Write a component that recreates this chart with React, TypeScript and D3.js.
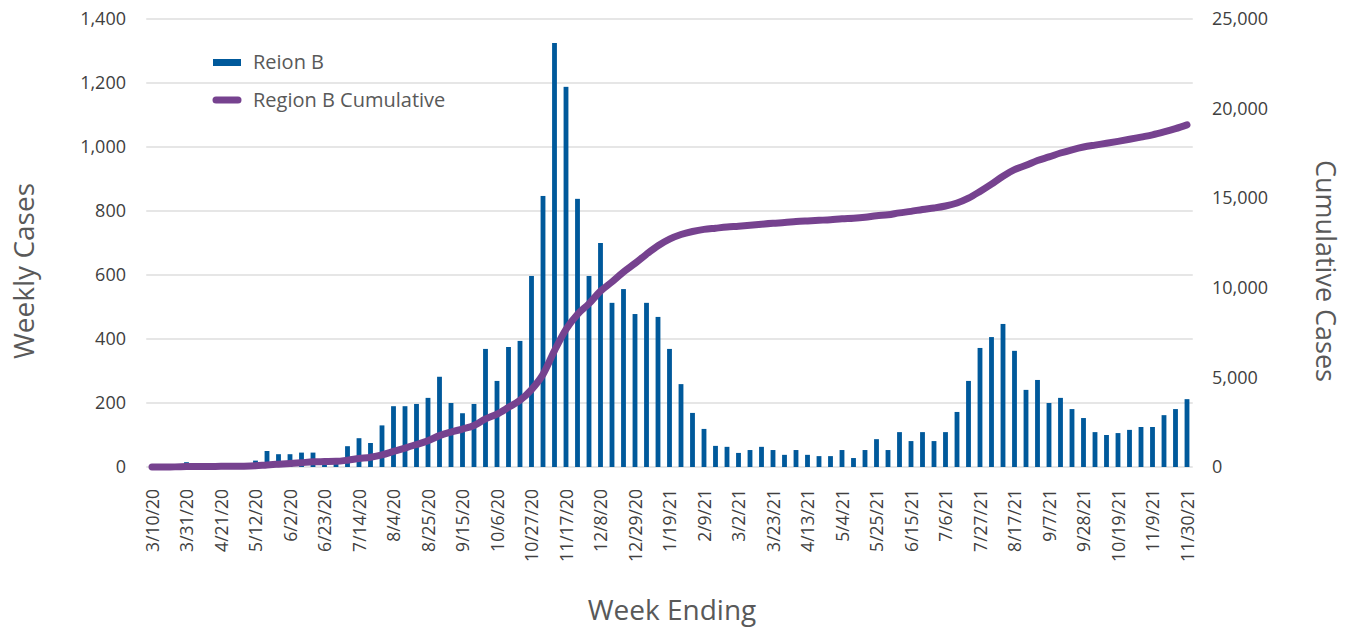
import * as d3 from 'd3';
import { useEffect, useRef } from 'react';

// Weekly cases, one value per week ending 3/10/20 ... 11/30/21
const weeklyCases: number[] = [
  0, 2, 5, 15, 5, 5, 5, 5, 5,
  20, 50, 40, 40, 45, 45, 15, 15, 65, 90, 75,
  130, 190, 190, 197, 216, 282, 200, 168, 197, 369, 269, 375, 394,
  597, 847, 1325, 1188, 838, 597, 700, 513, 556, 478, 513, 469, 369,
  259, 169, 119, 66, 63, 44, 53, 63, 53, 38, 53, 38, 34, 34, 53, 28, 53, 87, 53, 109, 81, 109, 81, 109,
  172, 269, 372, 406, 447, 363, 241, 272, 200, 216, 181, 153, 109, 100, 106, 116, 125, 125, 162, 181, 212,
];

const firstWeek = new Date(2020, 2, 10);

const tickLabels: string[] = [
  '3/10/20', '3/31/20', '4/21/20', '5/12/20', '6/2/20', '6/23/20', '7/14/20', '8/4/20',
  '8/25/20', '9/15/20', '10/6/20', '10/27/20', '11/17/20', '12/8/20', '12/29/20', '1/19/21',
  '2/9/21', '3/2/21', '3/23/21', '4/13/21', '5/4/21', '5/25/21', '6/15/21', '7/6/21',
  '7/27/21', '8/17/21', '9/7/21', '9/28/21', '10/19/21', '11/9/21', '11/30/21',
];

const leftTicks = [0, 200, 400, 600, 800, 1000, 1200, 1400];
const rightTicks = [0, 5000, 10000, 15000, 20000, 25000];

const FONT = '"Open Sans", "Noto Sans", sans-serif';
const TEXT = '#595959';
const TICK = '#404040';
const BAR = '#00599b';
const LINE = '#76428f';

const App = () => {
  const ref = useRef<SVGSVGElement>(null);

  useEffect(() => {
    document.body.style.margin = '0';
    const svg = d3.select(ref.current);
    svg.selectAll('*').remove();

    const width = 1354, height = 631;
    const top = 19, bottom = 467;
    const x0 = 152, x1 = 1187;

    const fmt = d3.timeFormat('%-m/%-d/%y');
    const weeks = weeklyCases.map((_, i) => fmt(d3.timeDay.offset(firstWeek, 7 * i)));
    const cumulative = Array.from(d3.cumsum(weeklyCases));

    const x = d3.scalePoint<string>().domain(weeks).range([x0, x1]);
    const step = x.step();
    const yL = d3.scaleLinear().domain([0, 1400]).range([bottom, top]);
    const yR = d3.scaleLinear().domain([0, 25000]).range([bottom, top]);

    svg.attr('width', width).attr('height', height)
      .style('font-family', FONT);

    // gridlines
    svg.append('g')
      .selectAll('line')
      .data(leftTicks)
      .enter()
      .append('line')
      .attr('x1', x0 - step / 2)
      .attr('x2', x1 + step / 2)
      .attr('y1', d => yL(d))
      .attr('y2', d => yL(d))
      .attr('stroke', '#e6e6e6')
      .attr('stroke-width', 2);

    // bars
    const barW = step * 0.42;
    svg.append('g')
      .selectAll('rect')
      .data(weeklyCases)
      .enter()
      .append('rect')
      .attr('x', (_, i) => (x(weeks[i]) as number) - barW / 2)
      .attr('y', d => yL(d))
      .attr('width', barW)
      .attr('height', d => bottom - yL(d))
      .attr('fill', BAR);

    // cumulative line
    const line = d3.line<number>()
      .x((_, i) => x(weeks[i]) as number)
      .y(d => yR(d))
      .curve(d3.curveMonotoneX);

    svg.append('path')
      .datum(cumulative)
      .attr('d', line)
      .attr('fill', 'none')
      .attr('stroke', LINE)
      .attr('stroke-width', 7)
      .attr('stroke-linecap', 'round')
      .attr('stroke-linejoin', 'round');

    // left axis
    const left = svg.append('g')
      .attr('transform', 'translate(126,0)')
      .call(d3.axisLeft(yL).tickValues(leftTicks).tickSize(0).tickPadding(0).tickFormat(d3.format(',')));
    left.select('.domain').remove();
    left.selectAll('text').attr('fill', TICK).style('font-size', '18px').style('font-family', FONT);

    // right axis
    const right = svg.append('g')
      .attr('transform', 'translate(1212,0)')
      .call(d3.axisRight(yR).tickValues(rightTicks).tickSize(0).tickPadding(0).tickFormat(d3.format(',')));
    right.select('.domain').remove();
    right.selectAll('text').attr('fill', TICK).style('font-size', '18px').style('font-family', FONT);

    // x axis
    const bottomAxis = svg.append('g')
      .attr('transform', `translate(0,${bottom + 22})`)
      .call(d3.axisBottom(x).tickValues(tickLabels).tickSize(0).tickPadding(0));
    bottomAxis.select('.domain').remove();
    bottomAxis.selectAll('text')
      .attr('fill', TICK)
      .style('font-size', '17.5px')
      .style('font-family', FONT)
      .attr('text-anchor', 'end')
      .attr('dy', '0.35em')
      .attr('y', 0)
      .attr('transform', 'rotate(-90)');

    // axis titles
    svg.append('text')
      .attr('transform', 'translate(34,271) rotate(-90)')
      .attr('text-anchor', 'middle')
      .attr('fill', TEXT)
      .style('font-size', '28px')
      .text('Weekly Cases');

    svg.append('text')
      .attr('transform', 'translate(1316,271) rotate(90)')
      .attr('text-anchor', 'middle')
      .attr('fill', TEXT)
      .style('font-size', '27px')
      .text('Cumulative Cases');

    svg.append('text')
      .attr('x', 672)
      .attr('y', 620)
      .attr('text-anchor', 'middle')
      .attr('fill', TEXT)
      .style('font-size', '28px')
      .text('Week Ending');

    // legend
    const legend = svg.append('g');
    legend.append('rect')
      .attr('x', 213).attr('y', 59).attr('width', 28).attr('height', 7)
      .attr('fill', BAR);
    legend.append('text')
      .attr('x', 253).attr('y', 62).attr('dy', '0.35em')
      .attr('fill', TEXT).style('font-size', '20px')
      .text('Reion B');
    legend.append('line')
      .attr('x1', 216).attr('x2', 238).attr('y1', 100).attr('y2', 100)
      .attr('stroke', LINE).attr('stroke-width', 7).attr('stroke-linecap', 'round');
    legend.append('text')
      .attr('x', 253).attr('y', 100).attr('dy', '0.35em')
      .attr('fill', TEXT).style('font-size', '20px')
      .text('Region B Cumulative');
  }, []);

  return <svg ref={ref} style={{ display: 'block' }}></svg>;
};

export default App;
